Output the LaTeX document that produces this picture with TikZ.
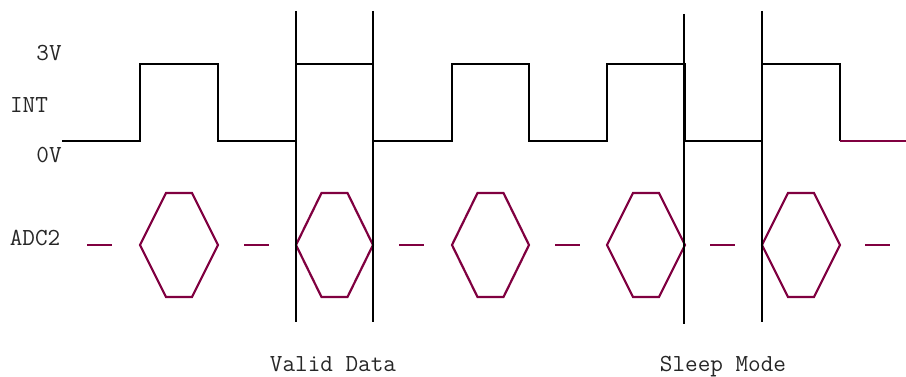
\documentclass[tikz,border=0pt]{standalone}
\usepackage{fontspec}
\definecolor{sigpurple}{RGB}{128,0,64}
\tikzset{
  wave/.style={black, line width=2.2pt, line join=miter},
  adc/.style={sigpurple, line width=2.2pt, line join=miter},
  marker/.style={black, line width=2.2pt},
  lbl/.style={font=\ttfamily\fontsize{24.5}{24.5}\selectfont, text=black!85,
              inner sep=0pt, anchor=base}
}
\begin{document}
\begin{tikzpicture}[x=1pt, y=-1pt]
  \useasboundingbox (0,0) rectangle (906,377);

  % signal labels
  \node[lbl] (v3)  at (49,61)  {3V};
  \node[lbl] (int) at (29,113) {INT};
  \node[lbl] (v0)  at (49,163) {0V};
  \node[lbl] (adc) at (35,245) {ADC2};
  \node[lbl] (valid) at (333,371) {Valid Data};
  \node[lbl] (sleep) at (723,371) {Sleep Mode};

  % INT square wave
  \draw[wave] (62,141) -- (140,141) -- (140,64) -- (218,64) -- (218,141)
    -- (296,141) -- (296,64) -- (373,64) -- (373,141)
    -- (452,141) -- (452,64) -- (529,64) -- (529,141)
    -- (607,141) -- (607,64) -- (685,64) -- (685,141)
    -- (762,141) -- (762,64) -- (840,64) -- (840,141);
  \draw[adc] (840,141) -- (906,141);

  % ADC2 conversion windows
  \foreach \a/\b in {140/218, 296/373, 452/529, 607/685, 762/840} {
    \pgfmathsetmacro{\m}{(\a+\b)/2}
    \draw[adc] (\a,245) -- (\m-13,193) -- (\m+13,193) -- (\b,245)
      -- (\m+13,297) -- (\m-13,297) -- cycle;
  }
  % idle dashes
  \foreach \c in {100, 257, 412, 568, 723, 878} {
    \draw[adc] (\c-13,245) -- (\c+12,245);
  }

  % time markers
  \draw[marker] (296,11) -- (296,322);
  \draw[marker] (373,11) -- (373,322);
  \draw[marker] (684,14) -- (684,324);
  \draw[marker] (762,11) -- (762,322);
\end{tikzpicture}
\end{document}
